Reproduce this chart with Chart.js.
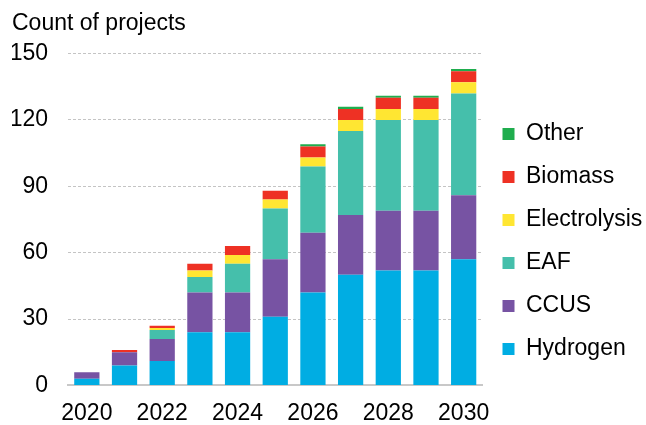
<!DOCTYPE html>
<html>
<head>
<meta charset="utf-8">
<script src="https://cdn.jsdelivr.net/npm/chart.js@4"></script>
<style>
  html, body { margin: 0; padding: 0; background: #fff; }
  #wrap { width: 646px; height: 425px; }
</style>
</head>
<body>
<div id="wrap"><canvas id="chart"></canvas></div>
<script>
const years = ['2020', '2021', '2022', '2023', '2024', '2025', '2026', '2027', '2028', '2029', '2030'];
const hydrogen = [3, 9, 11, 24, 24, 31, 42, 50, 52, 52, 57];
const ccus = [3, 6, 10, 18, 18, 26, 27, 27, 27, 27, 29];
const eaf = [0, 0, 4, 7, 13, 23, 30, 38, 41, 41, 46];
const electrolysis = [0, 0, 1, 3, 4, 4, 4, 5, 5, 5, 5];
const biomass = [0, 1, 1, 3, 4, 4, 5, 5, 5, 5, 5];
const other = [0, 0, 0, 0, 0, 0, 1, 1, 1, 1, 1];
const yTicks = [0, 30, 60, 90, 120, 150];

const font = { family: '"Liberation Sans", Arial, sans-serif', size: 23, weight: 'normal' };

const series = [
  { label: 'Hydrogen', data: hydrogen, color: '#00ade3' },
  { label: 'CCUS', data: ccus, color: '#7753a3' },
  { label: 'EAF', data: eaf, color: '#45bfab' },
  { label: 'Electrolysis', data: electrolysis, color: '#ffe632' },
  { label: 'Biomass', data: biomass, color: '#ee3124' },
  { label: 'Other', data: other, color: '#1fad4e' }
];

// widen the legend box a little so the plot ends where the original does
const legendWiden = {
  id: 'legendWiden',
  beforeLayout(chart) {
    const lg = chart.legend;
    if (lg && !lg._widened) {
      const fit = lg.fit.bind(lg);
      lg.fit = function () { fit(); this.width += 5; };
      lg._widened = true;
    }
  }
};

const ctx = document.getElementById('chart').getContext('2d');
new Chart(ctx, {
  type: 'bar',
  data: {
    labels: years,
    datasets: series.map(s => ({
      label: s.label,
      data: s.data,
      backgroundColor: s.color,
      borderWidth: 0,
      categoryPercentage: 0.67,
      barPercentage: 1
    }))
  },
  options: {
    responsive: true,
    maintainAspectRatio: false,
    animation: false,
    layout: { padding: { left: 12, right: 0, top: 4, bottom: -8 } },
    plugins: {
      tooltip: { enabled: false },
      title: {
        display: true,
        text: 'Count of projects',
        align: 'start',
        color: '#000',
        font: font,
        padding: { top: 6, bottom: 16 }
      },
      legend: {
        position: 'right',
        reverse: true,
        title: { display: true, text: '', font: { size: 10 }, padding: { top: 34, bottom: 0 } },
        labels: {
          color: '#000',
          font: font,
          boxWidth: 12,
          boxHeight: 12,
          padding: 20
        }
      }
    },
    scales: {
      x: {
        stacked: true,
        grid: { display: false },
        border: { display: true, color: '#c8c8c8', width: 2 },
        ticks: {
          color: '#000',
          font: font,
          maxRotation: 0,
          autoSkip: false,
          padding: 6,
          callback: (v, i) => (i % 2 === 0 ? years[i] : '')
        }
      },
      y: {
        stacked: true,
        min: 0,
        max: 150,
        afterBuildTicks: axis => { axis.ticks = yTicks.map(v => ({ value: v })); },
        afterFit: axis => { axis.width = 56; },
        grid: { color: '#c4c4c4', lineWidth: 1, drawTicks: false },
        border: { display: false, dash: [3, 2] },
        ticks: { color: '#000', font: font, padding: 20 }
      }
    }
  },
  plugins: [legendWiden]
});
</script>
</body>
</html>
